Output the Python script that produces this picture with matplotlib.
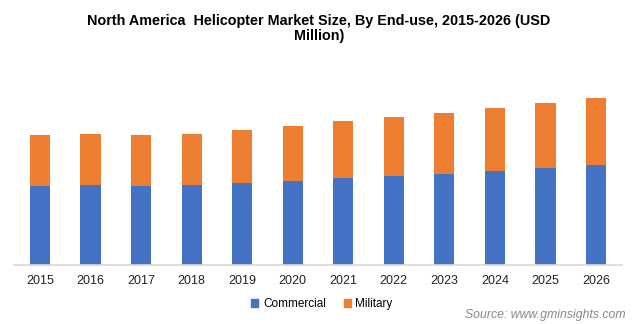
import matplotlib.pyplot as plt
import numpy as np
from matplotlib.patches import Patch

plt.rcParams["font.family"] = ["Liberation Sans", "DejaVu Sans"]

years = ["2015", "2016", "2017", "2018", "2019", "2020",
         "2021", "2022", "2023", "2024", "2025", "2026"]
commercial = [79, 80, 79, 80, 82, 84, 87, 89, 91, 94, 97, 100]
military = [51, 51, 51, 51, 53, 55, 57, 59, 61, 63, 65, 67]

BLUE = "#4472c4"
ORANGE = "#ed7d31"

fig = plt.figure(figsize=(6.36, 3.24), dpi=100)
ax = fig.add_axes([14 / 636, 59 / 324, 608 / 636, 180 / 324])

x = np.arange(len(years))
ax.bar(x, commercial, width=0.4, color=BLUE)
ax.bar(x, military, width=0.4, bottom=commercial, color=ORANGE)

ax.set_xlim(-0.515, len(years) - 0.485)
ax.set_ylim(0, 180)
ax.set_xticks(x)
ax.set_xticklabels(years, fontsize=9, color="#222222")
ax.tick_params(axis="x", length=0, pad=7)
ax.set_yticks([])
for side in ("top", "right", "left"):
    ax.spines[side].set_visible(False)
ax.spines["bottom"].set_color("#d9d9d9")
ax.spines["bottom"].set_linewidth(1.2)

title = "North America  Helicopter Market Size, By End-use, 2015-2026 (USD\nMillion)"
fig.text(319 / 636, 1 - 28.5 / 324, title, ha="center", va="center", fontsize=10.4,
         fontweight="bold", linespacing=1.1)

handles = [Patch(color=BLUE, label="Commercial"), Patch(color=ORANGE, label="Military")]
fig.legend(handles=handles, loc="center", bbox_to_anchor=(322 / 636, 1 - 304 / 324),
           ncol=2, frameon=False, fontsize=8.5, handlelength=0.6, handleheight=0.6,
           handletextpad=0.4, columnspacing=1.5)

fig.text(626 / 636, 1 - 315 / 324, "Source: www.gminsights.com", ha="right", va="center",
         fontsize=8.8, style="italic", color="#888888")

fig.savefig("out.png", dpi=100)
